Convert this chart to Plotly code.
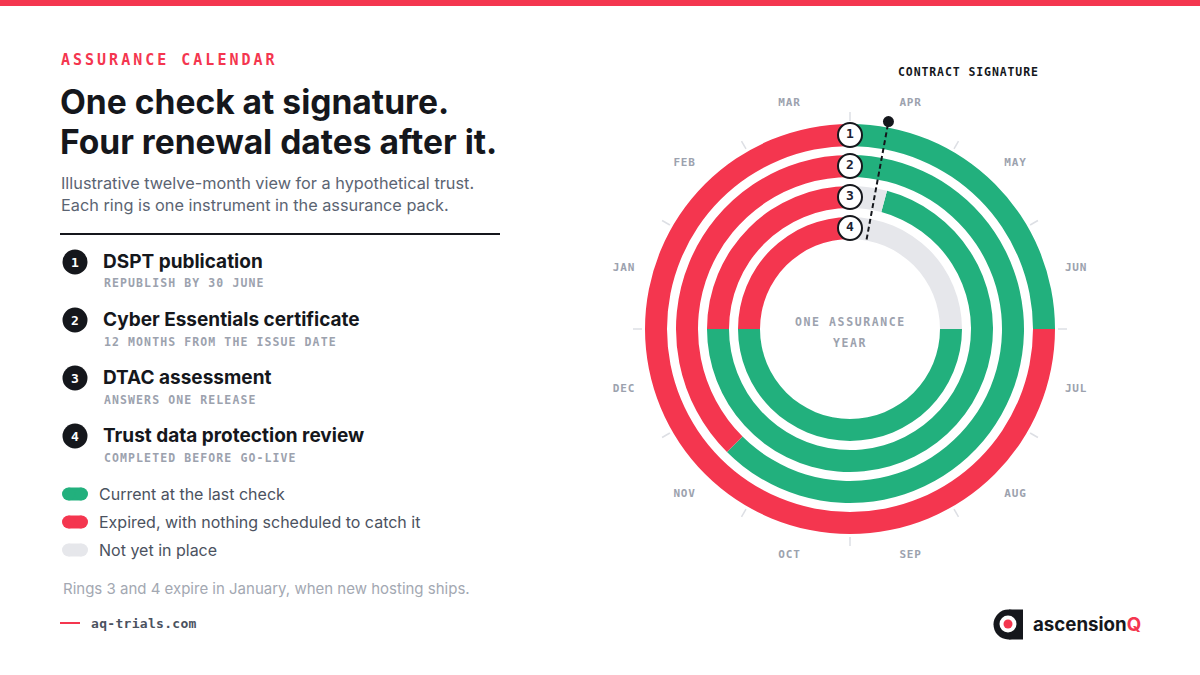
import plotly.graph_objects as go

# ---------------- data ----------------
months = ["APR", "MAY", "JUN", "JUL", "AUG", "SEP", "OCT", "NOV", "DEC", "JAN", "FEB", "MAR"]

ring_ids = [1, 2, 3, 4]
instrument_names = ["DSPT publication", "Cyber Essentials certificate",
                    "DTAC assessment", "Trust data protection review"]
instrument_notes = ["REPUBLISH BY 30 JUNE", "12 MONTHS FROM THE ISSUE DATE",
                    "ANSWERS ONE RELEASE", "COMPLETED BEFORE GO-LIVE"]

# segments, in months counted from 1 April (start of the assurance year)
seg_ring = [1, 1, 2, 2, 3, 3, 3, 4, 4, 4]
seg_status = ["current", "expired",
              "current", "expired",
              "notyet", "current", "expired",
              "notyet", "current", "expired"]
seg_start = [0, 3, 0, 7.5, 0, 0.5, 9, 0, 3, 9]
seg_end = [3, 12, 7.5, 12, 0.5, 9, 12, 3, 9, 12]

signature_month = 0.35

status_order = ["current", "expired", "notyet"]
status_labels = ["Current at the last check",
                 "Expired, with nothing scheduled to catch it",
                 "Not yet in place"]

kicker = "ASSURANCE CALENDAR"
title_lines = ["One check at signature.", "Four renewal dates after it."]
subtitle_lines = ["Illustrative twelve-month view for a hypothetical trust.",
                  "Each ring is one instrument in the assurance pack."]
footnote = "Rings 3 and 4 expire in January, when new hosting ships."
site = "aq-trials.com"
center_lines = ["ONE ASSURANCE", "YEAR"]
signature_label = "CONTRACT SIGNATURE"

# ---------------- style ----------------
W, H = 1200, 675
RED = "#F4364F"
GREEN = "#22B07D"
GREY = "#E6E7EB"
INK = "#15171C"
SLATE = "#5B6472"
MUTED = "#9CA2AE"
LEG = "#4B5260"
SANS = "Inter"
MONO = "DejaVu Sans Mono"
status_colors = {"current": GREEN, "expired": RED, "notyet": GREY}

CX, CY = 850, 329          # chart centre in pixels
RMAX = 250                 # radial axis extent (pixels == units)
RING_W = 22
RING_STEP = 31
RING_IN0 = 90              # inner radius of innermost ring


def X(px):
    return px / W


def Y(py):
    return 1 - py / H


def ring_inner(k):
    return RING_IN0 + (len(ring_ids) - k) * RING_STEP


DEG = 360 / len(months)

fig = go.Figure()

# rings
for status in status_order:
    idx = [i for i, s in enumerate(seg_status) if s == status]
    fig.add_trace(go.Barpolar(
        theta=[(seg_start[i] + seg_end[i]) / 2 * DEG for i in idx],
        width=[(seg_end[i] - seg_start[i]) * DEG for i in idx],
        base=[ring_inner(seg_ring[i]) for i in idx],
        r=[RING_W] * len(idx),
        marker=dict(color=status_colors[status], line=dict(width=0)),
        hoverinfo="skip", showlegend=False))

# month boundary ticks
outer = ring_inner(1) + RING_W
tt, tr = [], []
for k in range(len(months)):
    tt += [k * DEG, k * DEG, None]
    tr += [outer + 3, outer + 12, None]
fig.add_trace(go.Scatterpolar(theta=tt, r=tr, mode="lines",
                              line=dict(color="#DDDFE4", width=1.5),
                              hoverinfo="skip", showlegend=False))

# month labels
fig.add_trace(go.Scatterpolar(
    theta=[(k + 0.5) * DEG for k in range(len(months))],
    r=[outer + 29] * len(months),
    mode="text",
    text=[f"<span style='letter-spacing:0.8px'><b>{m}</b></span>" for m in months],
    textfont=dict(family=MONO, size=11, color=MUTED),
    textposition="middle center",
    hoverinfo="skip", showlegend=False))

# contract signature line
sig_theta = signature_month * DEG
fig.add_trace(go.Scatterpolar(
    theta=[sig_theta, sig_theta], r=[RING_IN0 + 1, outer + 6], mode="lines",
    line=dict(color=INK, width=2, dash="5px,3px"),
    hoverinfo="skip", showlegend=False))
fig.add_trace(go.Scatterpolar(
    theta=[sig_theta], r=[outer + 6], mode="markers",
    marker=dict(color=INK, size=11),
    hoverinfo="skip", showlegend=False))

# ring number badges
fig.add_trace(go.Scatterpolar(
    theta=[0] * len(ring_ids),
    r=[ring_inner(k) + RING_W / 2 for k in ring_ids],
    mode="markers+text",
    marker=dict(size=24, color="white", line=dict(color=INK, width=2)),
    text=[f"<b>{k}</b>" for k in ring_ids],
    textposition="middle center",
    textfont=dict(family=MONO, size=13, color="#1B2233"),
    hoverinfo="skip", showlegend=False))

shapes = []
annotations = []

# top bar
shapes.append(dict(type="rect", xref="paper", yref="paper", x0=0, x1=1,
                   y0=Y(6), y1=1, fillcolor=RED, line=dict(width=0)))


def ann(text, x, y, size, color, family=SANS, xanchor="left", yanchor="middle", ls=None, bold=False):
    t = f"<b>{text}</b>" if bold else text
    if ls is not None:
        t = f"<span style='letter-spacing:{ls}px'>{t}</span>"
    annotations.append(dict(text=t, x=X(x), y=Y(y), xref="paper", yref="paper",
                            xanchor=xanchor, yanchor=yanchor, showarrow=False,
                            font=dict(family=family, size=size, color=color)))


ann(kicker, 59, 60, 15, RED, family=MONO, ls=3.0, bold=True)
ann(title_lines[0], 58, 101, 33.6, INK, bold=True)
ann(title_lines[1], 58, 141, 33.6, INK, bold=True)
ann(subtitle_lines[0], 59, 183, 16.3, SLATE)
ann(subtitle_lines[1], 59, 205, 16.3, SLATE)

shapes.append(dict(type="line", xref="paper", yref="paper",
                   x0=X(60), x1=X(500), y0=Y(234), y1=Y(234),
                   line=dict(color=INK, width=2)))

for j, k in enumerate(ring_ids):
    yy = 262 + 58 * j
    shapes.append(dict(type="circle", xref="paper", yref="paper",
                       x0=X(62.5), x1=X(87.5), y0=Y(yy + 12.5), y1=Y(yy - 12.5),
                       fillcolor=INK, line=dict(width=0)))
    ann(str(k), 75, yy, 13, "white", family=MONO, xanchor="center", bold=True)
    ann(instrument_names[j], 101, yy - 1, 19, INK, bold=True)
    ann(instrument_notes[j], 102, yy + 21.5, 11.5, MUTED, family=MONO, ls=1.1, bold=True)

for j, status in enumerate(status_order):
    yy = 494 + 28 * j
    c = status_colors[status]
    shapes.append(dict(type="rect", xref="paper", yref="paper",
                       x0=X(68.5), x1=X(81.5), y0=Y(yy + 6.5), y1=Y(yy - 6.5),
                       fillcolor=c, line=dict(width=0)))
    for cx in (68.5, 81.5):
        shapes.append(dict(type="circle", xref="paper", yref="paper",
                           x0=X(cx - 6.5), x1=X(cx + 6.5), y0=Y(yy + 6.5), y1=Y(yy - 6.5),
                           fillcolor=c, line=dict(width=0)))
    ann(status_labels[j], 97, yy, 16, LEG)

ann(footnote, 61, 588, 15, "#A3A8B2")

shapes.append(dict(type="line", xref="paper", yref="paper",
                   x0=X(60), x1=X(80), y0=Y(623), y1=Y(623),
                   line=dict(color=RED, width=2)))
ann(site, 89, 623, 13, LEG, family=MONO, ls=0.3, bold=True)

# centre text
ann(center_lines[0], CX, 322, 11.5, MUTED, family=MONO, xanchor="center", ls=1.6, bold=True)
ann(center_lines[1], CX, 343, 11.5, MUTED, family=MONO, xanchor="center", ls=1.6, bold=True)

# signature label
ann(signature_label, 968, 72, 11.5, INK, family=MONO, xanchor="center", ls=0.9, bold=True)

# logo
shapes.append(dict(type="circle", xref="paper", yref="paper",
                   x0=X(993.5), x1=X(1023), y0=Y(639.5), y1=Y(609.5),
                   fillcolor=INK, line=dict(width=0)))
shapes.append(dict(type="rect", xref="paper", yref="paper",
                   x0=X(1009), x1=X(1023), y0=Y(639.5), y1=Y(609.5),
                   fillcolor=INK, line=dict(width=0)))
shapes.append(dict(type="circle", xref="paper", yref="paper",
                   x0=X(999.5), x1=X(1016.5), y0=Y(632.5), y1=Y(615.5),
                   fillcolor="white", line=dict(width=0)))
shapes.append(dict(type="circle", xref="paper", yref="paper",
                   x0=X(1003.5), x1=X(1012.5), y0=Y(628.5), y1=Y(619.5),
                   fillcolor=RED, line=dict(width=0)))
annotations.append(dict(text=f"<b>ascension<span style='color:{RED}'>Q</span></b>",
                        x=X(1031), y=Y(624), xref="paper", yref="paper",
                        xanchor="left", yanchor="middle", showarrow=False,
                        font=dict(family=SANS, size=18.7, color=INK)))

fig.update_layout(
    width=W, height=H,
    margin=dict(l=0, r=0, t=0, b=0),
    paper_bgcolor="white", plot_bgcolor="white",
    showlegend=False,
    polar=dict(
        domain=dict(x=[X(CX - RMAX), X(CX + RMAX)], y=[Y(CY + RMAX), Y(CY - RMAX)]),
        bgcolor="rgba(0,0,0,0)",
        bargap=0,
        radialaxis=dict(range=[0, RMAX], visible=False, showgrid=False),
        angularaxis=dict(rotation=90, direction="clockwise", visible=False, showgrid=False),
    ),
    shapes=shapes,
    annotations=annotations,
)

fig.write_html("out.html",
               config={"displayModeBar": False, "staticPlot": True},
               post_script="document.body.style.margin='0';document.body.style.overflow='hidden';")
